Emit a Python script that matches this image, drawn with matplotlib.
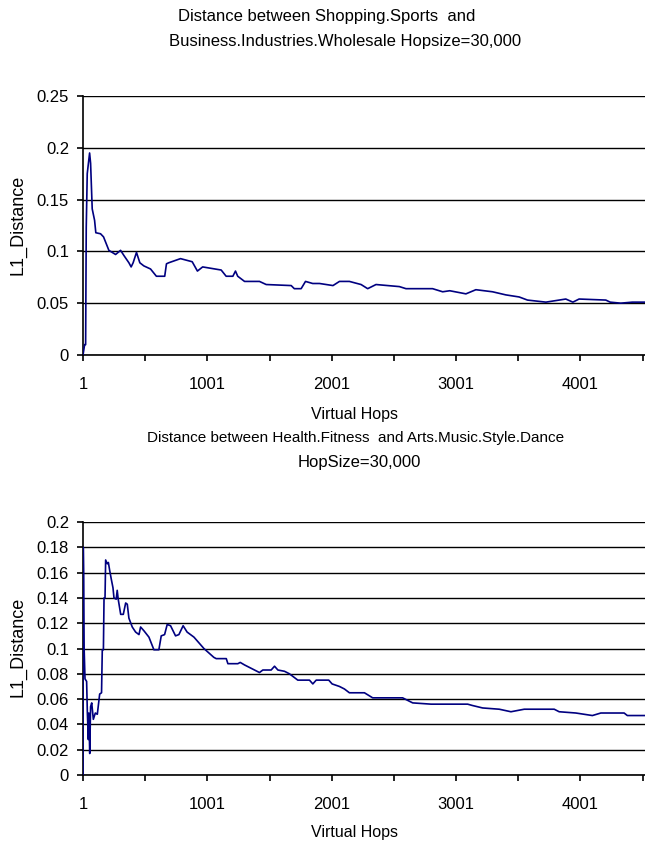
import matplotlib
matplotlib.use("Agg")
import matplotlib.pyplot as plt

plt.rcParams['font.family'] = ['Liberation Sans', 'DejaVu Sans']

# Shopping.Sports vs Business.Industries.Wholesale
hops_a = [1, 14, 22, 27, 35, 54, 62, 75, 94, 104, 142, 166, 209, 263, 303, 330,
          370, 388, 404, 431, 458, 490, 544, 591, 658, 672, 690, 785, 879, 921,
          963, 1112, 1152, 1206, 1227, 1245, 1300, 1420, 1474, 1675, 1700, 1755,
          1790, 1848, 1903, 2011, 2063, 2143, 2237, 2290, 2357, 2545, 2598, 2812,
          2893, 2950, 3080, 3160, 3294, 3401, 3508, 3575, 3723, 3883, 3940, 3990,
          4205, 4240, 4325, 4418, 4530]
dist_a = [0.0, 0.01, 0.01, 0.123, 0.175, 0.195, 0.185, 0.141, 0.13, 0.118, 0.117,
          0.114, 0.101, 0.097, 0.101, 0.096, 0.089, 0.085, 0.089, 0.099, 0.089,
          0.086, 0.083, 0.076, 0.076, 0.088, 0.089, 0.093, 0.090, 0.081, 0.085,
          0.082, 0.076, 0.076, 0.081, 0.076, 0.071, 0.071, 0.068, 0.067, 0.064,
          0.064, 0.071, 0.069, 0.069, 0.067, 0.071, 0.071, 0.068, 0.064, 0.068,
          0.066, 0.064, 0.064, 0.061, 0.062, 0.059, 0.063, 0.061, 0.058, 0.056,
          0.053, 0.051, 0.054, 0.051, 0.054, 0.053, 0.051, 0.050, 0.051, 0.051]

# Health.Fitness vs Arts.Music.Style.Dance
hops_b = [1, 3, 6, 10, 17, 30, 36, 44, 48, 55, 62, 71, 84, 100, 116, 135, 150,
          156, 165, 170, 178, 183, 196, 205, 215, 228, 242, 250, 268, 276, 284,
          304, 325, 344, 357, 370, 397, 424, 451, 464, 491, 531, 571, 611, 630,
          657, 678, 705, 745, 772, 806, 838, 893, 973, 1053, 1072, 1153, 1166,
          1246, 1265, 1300, 1420, 1447, 1514, 1541, 1568, 1621, 1661, 1728, 1822,
          1849, 1876, 1977, 2004, 2063, 2103, 2143, 2264, 2330, 2571, 2652, 2800,
          3094, 3130, 3214, 3348, 3442, 3549, 3790, 3830, 3964, 4097, 4165, 4352,
          4378, 4530]
dist_b = [0.0, 0.18, 0.16, 0.10, 0.076, 0.074, 0.049, 0.028, 0.049, 0.017, 0.054,
          0.057, 0.044, 0.049, 0.048, 0.064, 0.065, 0.099, 0.099, 0.14, 0.14, 0.17,
          0.167, 0.168, 0.162, 0.155, 0.148, 0.14, 0.139, 0.146, 0.139, 0.127,
          0.127, 0.136, 0.135, 0.124, 0.117, 0.113, 0.111, 0.117, 0.114, 0.109,
          0.099, 0.099, 0.11, 0.111, 0.119, 0.118, 0.11, 0.111, 0.118, 0.113,
          0.109, 0.100, 0.093, 0.092, 0.092, 0.088, 0.088, 0.089, 0.087, 0.081,
          0.083, 0.083, 0.086, 0.083, 0.082, 0.080, 0.075, 0.075, 0.072, 0.075,
          0.075, 0.072, 0.070, 0.068, 0.065, 0.065, 0.061, 0.061, 0.057, 0.056,
          0.056, 0.055, 0.053, 0.052, 0.050, 0.052, 0.052, 0.050, 0.049, 0.047,
          0.049, 0.049, 0.047, 0.047]

yticks_a = [0, 0.05, 0.1, 0.15, 0.2, 0.25]
yticks_b = [0, 0.02, 0.04, 0.06, 0.08, 0.1, 0.12, 0.14, 0.16, 0.18, 0.2]
xticks = [1, 501, 1001, 1501, 2001, 2501, 3001, 3501, 4001, 4501]
xlabels = ['1', '', '1001', '', '2001', '', '3001', '', '4001', '']

FS = 12
fig = plt.figure(figsize=(6.45, 8.48), dpi=100)
ax1 = fig.add_axes([0.1287, 0.5814, 0.8713, 0.3054])
ax2 = fig.add_axes([0.1287, 0.0861, 0.8713, 0.2983])


def style(ax, yticks, ylim):
    ax.set_xlim(1, 4520)
    ax.set_ylim(*ylim)
    ax.set_yticks(yticks)
    ax.set_yticklabels([f'{t:g}' for t in yticks], fontsize=FS)
    ax.set_xticks(xticks)
    ax.set_xticklabels(xlabels, fontsize=FS)
    for t in yticks:
        ax.axhline(t, color='black', lw=1.0, zorder=1)
    for s in ['top', 'right']:
        ax.spines[s].set_visible(False)
    for s in ['left', 'bottom']:
        ax.spines[s].set_linewidth(1.2)
    ax.tick_params(direction='out', length=4, width=1.2)
    ax.tick_params(axis='x', pad=12)
    ax.tick_params(axis='y', pad=6)


ax1.plot(hops_a, dist_a, color='#000080', lw=1.2, zorder=3)
style(ax1, yticks_a, (0, 0.25))
ax2.plot(hops_b, dist_b, color='#000080', lw=1.2, zorder=3)
style(ax2, yticks_b, (0, 0.2))

fig.text(0.507, 0.981, 'Distance between Shopping.Sports  and', ha='center', va='center', fontsize=FS)
fig.text(0.535, 0.951, 'Business.Industries.Wholesale Hopsize=30,000', ha='center', va='center', fontsize=FS)
fig.text(0.55, 0.511, 'Virtual Hops', ha='center', va='center', fontsize=11.5)
fig.text(0.552, 0.484, 'Distance between Health.Fitness  and Arts.Music.Style.Dance', ha='center', va='center', fontsize=11)
fig.text(0.557, 0.455, 'HopSize=30,000', ha='center', va='center', fontsize=FS)
fig.text(0.55, 0.018, 'Virtual Hops', ha='center', va='center', fontsize=11.5)
fig.text(0.027, 0.735, 'L1_Distance', rotation=90, ha='center', va='center', fontsize=13)
fig.text(0.027, 0.237, 'L1_Distance', rotation=90, ha='center', va='center', fontsize=13)

fig.savefig('out.png', dpi=100)
